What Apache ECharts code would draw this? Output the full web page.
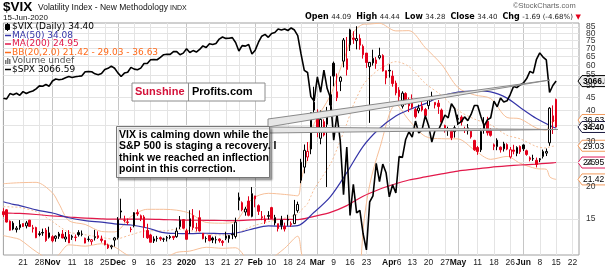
<!DOCTYPE html>
<html>
<head>
<meta charset="utf-8">
<script src="https://cdn.jsdelivr.net/npm/echarts/dist/echarts.min.js"></script>
<style>
html,body{margin:0;padding:0;background:#fff;overflow:hidden;}
#chart{width:605px;height:267px;}
</style>
</head>
<body>
<div id="chart"></div>
<script>
// ---------------- DATA ----------------
const tradingDays = {
  '2019-10': [11,14,15,16,17,18,21,22,23,24,25,28,29,30,31],
  '2019-11': [1,4,5,6,7,8,11,12,13,14,15,18,19,20,21,22,25,26,27,29],
  '2019-12': [2,3,4,5,6,9,10,11,12,13,16,17,18,19,20,23,24,26,27,30,31],
  '2020-01': [2,3,6,7,8,9,10,13,14,15,16,17,21,22,23,24,27,28,29,30,31],
  '2020-02': [3,4,5,6,7,10,11,12,13,14,18,19,20,21,24,25,26,27,28],
  '2020-03': [2,3,4,5,6,9,10,11,12,13,16,17,18,19,20,23,24,25,26,27,30,31],
  '2020-04': [1,2,3,6,7,8,9,13,14,15,16,17,20,21,22,23,24,27,28,29,30],
  '2020-05': [1,4,5,6,7,8,11,12,13,14,15,18,19,20,21,22,26,27,28,29],
  '2020-06': [1,2,3,4,5,8,9,10,11,12,15,16,17,18,19,22,23,24]
};
const vixPrevClose = 17.57;
const vixOpen = [
 16.01,16.27,14.69,14.43,13.61,13.86,14.37,14.07,14.82,13.83,13.87,13.02,13.26,13.55,12.70,
 12.77,12.58,12.81,13.07,12.50,13.04,12.80,12.72,13.25,13.06,12.59,12.48,12.21,12.64,12.88,12.51,12.33,11.85,11.64,12.38,
 12.66,16.11,14.81,14.59,13.67,14.10,15.87,15.42,15.26,13.50,12.97,12.51,12.55,12.66,12.47,12.67,12.77,12.81,12.77,13.97,14.90,
 13.46,15.01,15.45,13.84,15.16,13.16,12.55,12.91,12.61,12.43,12.50,12.24,12.58,12.55,13.04,12.79,17.72,17.36,15.95,17.62,15.34,
 18.45,16.90,15.29,14.67,15.34,16.60,14.45,14.36,14.84,14.03,14.93,14.23,14.37,16.15,21.24,23.93,26.22,28.18,43.03,
 38.95,31.05,36.10,35.24,46.05,61.18,44.80,51.96,62.35,63.69,72.21,76.85,75.04,76.45,71.28,67.05,59.31,61.33,63.03,64.26,65.55,57.20,
 57.38,54.46,51.11,48.00,41.49,46.52,42.87,44.40,40.26,39.81,41.49,40.28,41.72,44.87,42.95,42.66,40.06,34.84,33.44,33.08,32.99,
 36.84,37.61,33.79,33.28,33.09,30.47,28.58,27.97,33.73,36.22,33.30,28.81,28.80,28.66,28.23,29.33,26.25,27.92,27.11,28.84,
 29.25,27.75,26.04,25.86,25.47,25.58,26.36,27.16,29.81,38.03,44.09
];
const vixHigh = [
 16.52,16.34,14.79,14.68,14.05,14.83,14.39,14.72,14.86,14.20,13.97,13.42,13.73,13.81,13.97,
 12.94,12.92,13.33,13.56,13.32,13.55,12.99,13.02,13.54,13.50,12.66,12.82,12.50,13.58,13.40,12.89,12.33,11.99,11.87,12.74,
 15.24,17.99,15.43,15.05,13.95,15.94,16.33,15.59,15.51,14.35,13.10,12.80,12.86,12.79,12.65,12.85,12.97,12.81,13.86,15.39,14.98,
 13.72,16.20,16.39,14.46,16.19,13.16,12.80,12.91,12.77,12.81,12.57,12.39,13.35,12.79,14.28,15.16,19.02,17.56,16.72,18.39,19.99,
 18.47,17.09,16.10,15.49,16.08,16.72,15.55,14.36,15.41,14.49,15.56,14.65,17.80,17.52,25.80,29.36,30.03,39.16,49.48,
 40.33,39.93,36.86,41.24,54.39,62.12,55.78,54.37,76.83,77.57,83.56,81.69,85.47,79.45,72.48,67.05,61.28,69.13,64.67,70.37,66.37,57.20,
 60.59,57.24,52.29,49.29,47.50,47.07,44.91,46.17,40.92,42.09,43.04,40.85,44.61,47.29,42.95,43.88,40.62,35.12,34.49,33.55,34.83,
 38.47,38.20,34.49,35.35,33.23,30.62,28.98,33.94,37.59,37.71,34.00,29.63,31.05,28.84,30.09,29.69,28.71,29.29,28.89,29.12,
 29.40,28.02,26.37,26.77,26.09,25.99,28.04,28.31,41.16,41.81,44.44
];
const vixLow = [
 15.26,14.51,13.49,13.53,13.26,13.60,13.93,13.76,13.98,13.25,12.60,12.81,12.87,12.19,12.55,
 12.13,12.20,12.52,12.58,12.18,12.05,12.40,12.25,12.78,12.81,12.02,12.21,11.86,12.33,12.51,12.10,11.81,11.42,11.40,11.68,
 12.45,15.04,14.53,14.20,13.29,13.89,15.40,14.70,12.63,12.51,12.14,12.06,12.20,12.29,12.18,12.23,12.48,12.39,12.64,13.67,13.69,
 12.42,13.13,13.54,13.39,13.38,12.47,12.11,12.24,12.05,12.00,12.10,11.75,12.37,12.09,12.48,12.57,16.21,16.06,15.43,15.34,15.21,
 16.65,15.53,14.82,14.32,14.92,14.99,14.14,13.38,13.63,13.38,14.09,13.95,14.31,15.85,20.70,22.62,25.31,26.89,37.10,
 31.37,29.42,31.57,20.00,38.93,49.68,43.46,47.57,58.96,54.75,68.33,72.88,69.37,69.14,63.79,58.62,35.70,59.90,58.17,63.32,56.76,50.59,
 53.72,49.51,45.78,43.19,40.63,42.02,39.35,40.42,37.18,38.93,39.55,37.73,40.35,43.69,40.66,38.71,35.57,32.69,31.76,30.54,31.25,
 34.98,34.86,32.57,32.13,30.97,27.73,26.75,27.42,32.37,31.84,31.53,27.91,27.88,27.29,27.55,27.88,25.85,26.87,26.41,26.96,
 27.68,26.53,25.21,25.32,23.87,25.04,25.88,26.45,29.01,32.29,34.28
];
const vixClose = [
 15.58,14.57,13.54,13.68,13.79,14.25,14.00,14.46,14.01,13.71,12.65,13.11,13.20,12.33,13.22,
 12.30,12.83,13.10,12.62,12.73,12.07,12.69,12.68,13.00,13.05,12.05,12.46,12.41,12.78,12.66,12.34,11.87,11.54,11.75,12.62,
 14.91,15.96,14.80,14.52,13.62,15.86,15.68,14.99,13.94,12.63,12.14,12.29,12.58,12.50,12.51,12.61,12.67,12.65,13.43,14.82,13.78,
 12.47,14.02,13.85,13.79,13.45,12.54,12.56,12.32,12.39,12.42,12.32,12.10,12.85,12.91,12.98,14.56,18.23,16.28,16.39,15.49,18.84,
 17.97,16.05,15.15,14.96,15.47,15.04,15.18,13.74,14.15,13.68,14.83,14.38,15.56,17.08,25.03,27.85,27.56,39.16,40.11,
 33.42,36.82,31.99,39.62,41.94,54.46,47.30,53.90,75.47,57.83,82.69,75.91,76.45,72.00,66.04,61.59,61.67,63.95,61.00,65.54,57.08,53.54,
 57.06,50.91,46.80,45.24,46.70,43.35,41.67,41.17,37.76,40.84,40.11,38.15,43.83,45.41,41.98,41.38,35.93,33.29,33.57,31.23,34.15,
 37.19,35.97,33.61,34.12,31.44,27.98,27.57,33.04,35.28,32.61,31.89,29.30,30.53,27.99,29.53,28.16,28.01,27.62,28.59,27.51,
 28.23,26.84,25.66,25.81,24.52,25.81,27.57,27.57,40.79,36.09,34.40
];
const spxClose = [
 2970.27,2966.15,2995.68,2989.69,2997.95,2986.20,3006.72,2995.99,3004.52,3010.29,3022.55,3039.42,3036.89,3046.77,3037.56,
 3066.91,3078.27,3074.62,3076.78,3085.18,3093.08,3087.01,3091.84,3094.04,3096.63,3120.46,3122.03,3120.18,3108.46,3103.54,3110.29,3133.64,3140.52,3153.63,3140.98,
 3113.87,3093.20,3112.76,3117.43,3145.91,3135.96,3132.52,3141.63,3168.57,3168.80,3191.45,3192.52,3191.14,3205.37,3221.22,3224.01,3223.38,3239.91,3240.02,3221.29,3230.78,
 3257.85,3234.85,3246.28,3237.18,3253.05,3274.70,3265.35,3288.13,3283.15,3289.29,3316.81,3329.62,3320.79,3321.75,3325.54,3295.47,3243.63,3276.24,3273.40,3283.66,3225.52,
 3248.92,3297.59,3334.69,3345.78,3327.71,3352.09,3357.75,3379.45,3373.94,3380.16,3370.29,3386.15,3373.23,3337.75,3225.89,3128.21,3116.39,2978.76,2954.22,
 3090.23,3003.37,3130.12,3023.94,2972.37,2746.56,2882.23,2741.38,2480.64,2711.02,2386.13,2529.19,2398.10,2409.39,2304.92,2237.40,2447.33,2475.56,2630.07,2541.47,2626.65,2584.59,
 2470.50,2526.90,2488.65,2663.68,2659.41,2749.98,2789.82,2761.63,2846.06,2783.36,2799.55,2874.56,2823.16,2736.56,2799.31,2797.80,2836.74,2878.48,2863.39,2939.51,2912.43,
 2830.71,2842.74,2868.44,2848.42,2881.19,2929.80,2930.32,2870.12,2820.00,2852.50,2863.70,2953.91,2922.94,2971.61,2948.51,2955.45,2991.77,3036.13,3029.73,3044.31,
 3055.73,3080.82,3122.87,3112.35,3193.93,3232.39,3207.18,3190.14,3002.10,3041.31,3066.59
];
// Bollinger Bands (20,2) read at selected dates
const bbDates = ['2019-10-11','2019-10-16','2019-10-18','2019-10-25','2019-11-01','2019-11-05','2019-11-08','2019-11-15','2019-11-22','2019-11-29','2019-12-06','2019-12-13','2019-12-20','2019-12-27','2020-01-03','2020-01-10','2020-01-17','2020-01-24','2020-01-31','2020-02-07','2020-02-14','2020-02-21','2020-02-24','2020-02-25','2020-02-26','2020-02-27','2020-02-28','2020-03-06','2020-03-10','2020-03-13','2020-03-17','2020-03-20','2020-03-24','2020-03-27','2020-04-03','2020-04-09','2020-04-17','2020-04-24','2020-05-01','2020-05-08','2020-05-15','2020-05-22','2020-05-29','2020-06-05','2020-06-10','2020-06-11','2020-06-12','2020-06-15'];
const bbUpper = [20.61,20.73,20.79,20.86,18.97,17.18,14.76,14.26,13.38,13.33,15.30,16.35,16.35,16.22,15.77,14.52,14.42,14.67,17.94,18.89,18.70,18.48,21.10,23.71,25.72,31.13,35.41,45.73,53.49,68.15,80.63,86.92,87.20,87.76,81.94,82.12,70.43,60.50,49.10,45.97,44.46,37.47,37.02,34.05,33.42,35.50,36.22,36.63];
const bbMiddle = [16.75,16.69,16.62,16.01,14.64,14.03,13.31,12.99,12.68,12.48,12.99,13.47,13.45,13.65,13.49,13.06,12.96,13.11,14.01,14.61,15.10,15.65,16.18,16.66,17.22,18.36,19.59,24.63,28.19,35.40,41.90,50.28,53.80,57.98,62.06,59.35,51.01,45.72,39.99,36.96,35.07,31.92,30.90,28.83,28.45,28.73,28.90,29.03];
const bbLower = [12.89,12.65,12.45,11.16,10.31,10.88,11.86,11.72,11.98,11.63,10.68,10.59,10.55,11.08,11.21,11.60,11.50,11.55,10.08,10.33,11.50,12.82,11.26,9.61,8.72,5.59,3.77,3.53,2.89,2.65,3.17,13.64,20.40,28.20,42.18,36.58,31.59,30.94,30.88,27.95,25.68,26.37,24.78,23.61,23.48,21.96,21.58,21.42];
// Moving averages read at selected dates
const maDates = ['2019-10-11','2019-10-16','2019-10-18','2019-10-25','2019-11-01','2019-11-08','2019-11-15','2019-11-22','2019-11-29','2019-12-06','2019-12-13','2019-12-20','2019-12-27','2020-01-03','2020-01-10','2020-01-17','2020-01-24','2020-01-31','2020-02-07','2020-02-14','2020-02-21','2020-02-28','2020-03-06','2020-03-13','2020-03-20','2020-03-27','2020-04-03','2020-04-09','2020-04-17','2020-04-24','2020-05-01','2020-05-08','2020-05-15','2020-05-22','2020-05-29','2020-06-05','2020-06-12','2020-06-15'];
const ma50 = [17.51,17.10,16.91,16.27,15.81,15.15,14.76,14.55,14.34,14.19,13.81,13.24,13.14,13.12,13.17,13.13,13.19,13.68,14.07,14.03,14.10,15.91,18.34,22.77,28.88,33.91,37.95,40.18,42.47,45.44,47.10,47.60,47.20,44.64,41.02,37.14,34.41,34.08];
const ma200 = [15.82,15.78,15.75,15.60,15.40,15.25,15.10,15.00,14.95,14.95,14.95,14.90,14.85,14.82,14.80,14.78,14.76,14.85,14.95,14.93,14.90,15.35,15.90,16.90,18.40,19.60,20.60,21.30,21.90,22.50,23.10,23.50,23.90,24.20,24.40,24.60,24.85,24.95];
// axis ticks
const yTickValues = [15,20,25,30,35,40,45,50,55,60,65,70,75,80,85];
const xTickDates = ['2019-10-21','2019-10-28','2019-11-01','2019-11-11','2019-11-18','2019-11-25','2019-12-02','2019-12-09','2019-12-16','2019-12-23','2020-01-02','2020-01-13','2020-01-21','2020-01-27','2020-02-03','2020-02-10','2020-02-18','2020-02-24','2020-03-02','2020-03-09','2020-03-16','2020-03-23','2020-04-01','2020-04-06','2020-04-13','2020-04-20','2020-04-27','2020-05-01','2020-05-11','2020-05-18','2020-05-26','2020-06-01','2020-06-08','2020-06-15','2020-06-22'];
const xTickText = ['21','28','Nov','11','18','25','Dec','9','16','23','2020','13','21','27','Feb','10','18','24','Mar','9','16','23','Apr','6','13','20','27','May','11','18','26','Jun','8','15','22'];
const monthTickText = ['Nov','Dec','2020','Feb','Mar','Apr','May','Jun'];

// ---------------- BUILD ----------------
const FONT = '"Liberation Sans", Arial, sans-serif';
const WIDE = '"DejaVu Sans", Verdana, sans-serif';
const RED = '#e3001b';
const cats = [];
Object.keys(tradingDays).forEach(m => tradingDays[m].forEach(d => cats.push(m + '-' + (d < 10 ? '0' : '') + d)));
const tickMap = {};
xTickDates.forEach((d, i) => { tickMap[d] = xTickText[i]; });
const monthSet = new Set(monthTickText);

const candleData = vixClose.map((c, i) => {
  const o = vixOpen[i];
  const prev = i === 0 ? vixPrevClose : vixClose[i - 1];
  const col = c < prev ? RED : '#000';
  const fill = c < o ? col : '#fff';
  return { value: [o, c, vixLow[i], vixHigh[i]], itemStyle: { color: fill, color0: fill, borderColor: col, borderColor0: col, borderWidth: 1 } };
});
const pairs = (dates, vals) => dates.map((d, i) => [d, vals[i]]);

const VMIN = 10.82, VMAX = 88.0;
const SMIN = 2216.4, SMAX = 3417.8;

const chart = echarts.init(document.getElementById('chart'), null, { renderer: 'canvas' });
const option = {
  animation: false,
  backgroundColor: '#fff',
  textStyle: { fontFamily: FONT },
  grid: { left: 3.4, right: 26, top: 23, bottom: 12, show: true, borderColor: '#a0a0a0', borderWidth: 1, backgroundColor: 'transparent' },
  xAxis: [
    {
      type: 'category', data: cats, boundaryGap: false,
      axisLine: { show: false }, axisTick: { show: false },
      axisLabel: {
        interval: (i, v) => v in tickMap,
        formatter: v => monthSet.has(tickMap[v]) ? '{b|' + tickMap[v] + '}' : (tickMap[v] || ''),
        fontSize: 8.5, color: '#222', margin: 3, fontFamily: FONT,
        rich: { b: { fontWeight: 'bold', fontSize: 8.5, fontFamily: FONT, color: '#111' } }
      },
      splitLine: { show: true, interval: (i, v) => v in tickMap, lineStyle: { color: '#e4e4e4', width: 1 } }
    },
    {
      type: 'category', data: cats, boundaryGap: false, position: 'bottom',
      axisLine: { show: false }, axisTick: { show: false }, axisLabel: { show: false },
      splitLine: { show: true, interval: (i, v) => v in tickMap && monthSet.has(tickMap[v]), lineStyle: { color: '#c6c6c6', width: 1 } }
    }
  ],
  yAxis: [
    { type: 'log', min: VMIN, max: VMAX, axisLabel: { show: false }, axisLine: { show: false }, axisTick: { show: false }, splitLine: { show: false } },
    { type: 'log', min: SMIN, max: SMAX, show: false }
  ],
  series: [
    {
      type: 'line', name: 'grid', data: [], z: 1, silent: true,
      markLine: {
        silent: true, symbol: ['none', 'none'], animation: false, z: 1,
        lineStyle: { color: '#e4e4e4', width: 1, type: 'solid' },
        label: { show: true, position: 'end', distance: 7, formatter: p => String(p.value), color: '#333', fontSize: 8.5, fontFamily: FONT },
        emphasis: { disabled: true },
        data: yTickValues.map(v => ({ yAxis: v }))
      }
    },
    { type: 'line', name: 'BB upper', data: pairs(bbDates, bbUpper), showSymbol: false, smooth: 0.3, z: 2, lineStyle: { color: '#f6bf98', width: 1 } },
    { type: 'line', name: 'BB lower', data: pairs(bbDates, bbLower), showSymbol: false, smooth: 0.3, z: 2, lineStyle: { color: '#f6bf98', width: 1 } },
    { type: 'line', name: 'BB middle', data: pairs(bbDates, bbMiddle), showSymbol: false, smooth: 0.3, z: 2, lineStyle: { color: '#f6bf98', width: 1, type: [2, 2] } },
    { type: 'line', name: 'MA200', data: pairs(maDates, ma200), showSymbol: false, smooth: 0.3, z: 3, lineStyle: { color: '#e2184a', width: 1.2 } },
    { type: 'line', name: 'MA50', data: pairs(maDates, ma50), showSymbol: false, smooth: 0.3, z: 3, lineStyle: { color: '#3535a8', width: 1.2 } },
    { type: 'candlestick', name: 'VIX', data: candleData, barWidth: 2, z: 4 },
    { type: 'line', name: 'SPX', data: spxClose, yAxisIndex: 1, showSymbol: false, z: 5, lineStyle: { color: '#000', width: 1.6 } }
  ]
};
chart.setOption(option);

// ---------------- ANNOTATIONS ----------------
const last = vixClose.length - 1;
const fmt = v => v.toFixed(2);
const chg = vixClose[last] - vixClose[last - 1];
const chgPct = chg / vixClose[last - 1] * 100;

const legendRows = [
  { text: '$VIX (Daily) ' + fmt(vixClose[last]), color: '#000', icon: 'candle' },
  { text: 'MA(50) ' + fmt(ma50[ma50.length - 1]), color: '#3535a8', icon: 'line' },
  { text: 'MA(200) ' + fmt(ma200[ma200.length - 1]), color: '#e2184a', icon: 'line' },
  { text: 'BB(20,2.0) ' + fmt(bbLower[bbLower.length - 1]) + ' - ' + fmt(bbMiddle[bbMiddle.length - 1]) + ' - ' + fmt(bbUpper[bbUpper.length - 1]), color: '#ff6a1a', icon: 'line' },
  { text: 'Volume undef', color: '#555', icon: 'vol' },
  { text: '$SPX ' + fmt(spxClose[spxClose.length - 1]), color: '#000', icon: 'line' }
];
const LX = 5;
const g = [];
g.push({ type: 'text', x: 3, y: 0.5, z: 100, style: { text: '$VIX', font: 'bold 13.5px ' + FONT, fill: '#000' } });
g.push({ type: 'text', x: 38, y: 3.5, z: 100, style: { text: 'Volatility Index - New Methodology', font: '8.5px ' + FONT, fill: '#111' } });
g.push({ type: 'text', x: 170, y: 5, z: 100, style: { text: 'INDX', font: '7px ' + FONT, fill: '#111' } });
g.push({ type: 'text', x: 3, y: 13.5, z: 100, style: { text: '15-Jun-2020', font: '8px ' + FONT, fill: '#111' } });
g.push({ type: 'text', x: 513, y: 2, z: 100, style: { text: '\u00a9StockCharts.com', font: '7.5px ' + FONT, fill: '#666' } });
g.push({ type: 'text', x: 305, y: 13, z: 100, style: {
  text: '{b|Open} {v|' + fmt(vixOpen[last]) + '}  {b|High} {v|' + fmt(vixHigh[last]) + '}  {b|Low} {v|' + fmt(vixLow[last]) + '}  {b|Close} {v|' + fmt(vixClose[last]) + '}  {b|Chg} {v|' + fmt(chg) + ' (' + chgPct.toFixed(2) + '%)} {r|\u25bc}',
  font: '8px ' + WIDE, fill: '#000',
  rich: { b: { font: 'bold 8px ' + WIDE, fill: '#000' }, v: { font: '7px ' + WIDE, fill: '#222' }, r: { font: '7px ' + WIDE, fill: RED } }
} });
legendRows.forEach((r, i) => {
  const y = 27 + i * 8.5;
  if (r.icon === 'line') g.push({ type: 'line', z: 100, shape: { x1: LX, y1: y, x2: LX + 6, y2: y }, style: { stroke: r.color, lineWidth: 1.5 } });
  if (r.icon === 'candle') {
    g.push({ type: 'line', z: 100, shape: { x1: LX + 2.5, y1: y - 4, x2: LX + 2.5, y2: y + 4 }, style: { stroke: '#000', lineWidth: 1 } });
    g.push({ type: 'rect', z: 100, shape: { x: LX + 0.5, y: y - 2.5, width: 4, height: 5 }, style: { fill: '#000', stroke: '#000' } });
  }
  if (r.icon === 'vol') {
    g.push({ type: 'rect', z: 100, shape: { x: LX, y: y - 1, width: 1.5, height: 4 }, style: { fill: '#777' } });
    g.push({ type: 'rect', z: 100, shape: { x: LX + 2, y: y - 3, width: 1.5, height: 6 }, style: { fill: '#777' } });
    g.push({ type: 'rect', z: 100, shape: { x: LX + 4, y: y - 2, width: 1.5, height: 5 }, style: { fill: '#777' } });
  }
  g.push({ type: 'text', x: LX + 7, y: y, z: 100, style: { text: r.text, font: '9px ' + WIDE, fill: r.color, verticalAlign: 'middle' } });
});
// Sunshine Profits box
g.push({ type: 'rect', z: 100, shape: { x: 132, y: 83, width: 133, height: 18 }, style: { fill: '#fff', stroke: '#8c8c8c', lineWidth: 1 } });
g.push({ type: 'line', z: 101, shape: { x1: 188.5, y1: 83, x2: 188.5, y2: 101 }, style: { stroke: '#8c8c8c', lineWidth: 1 } });
g.push({ type: 'text', x: 135, y: 92, z: 101, style: { text: 'Sunshine', font: 'bold 11px ' + FONT, fill: '#d4123a', verticalAlign: 'middle' } });
g.push({ type: 'text', x: 192, y: 92, z: 101, style: { text: 'Profits.com', font: 'bold 11px ' + FONT, fill: '#000', verticalAlign: 'middle' } });
// callouts
g.push({ type: 'polygon', z: 90, shape: { points: [[268, 119], [550, 80], [268, 127]] }, style: { fill: '#e6e6e6', stroke: '#8a8a8a', lineWidth: 1 } });
g.push({ type: 'polygon', z: 90, shape: { points: [[268, 127], [558, 129.5], [268, 133]] }, style: { fill: '#e6e6e6', stroke: '#8a8a8a', lineWidth: 1 } });
// annotation box
g.push({ type: 'rect', z: 100, shape: { x: 116.5, y: 126.5, width: 153, height: 51 }, style: { fill: '#fff', stroke: '#777', lineWidth: 1, shadowBlur: 2, shadowOffsetX: 2, shadowOffsetY: 2, shadowColor: 'rgba(0,0,0,0.35)' } });
g.push({ type: 'text', x: 119, y: 129, z: 101, style: { text: 'VIX is calming down while the\nS&P 500 is staging a recovery. I\nthink we reached an inflection\npoint in this correction.', font: 'bold 10.5px ' + FONT, fill: '#000', lineHeight: 11.5 } });

// value tags on the right
function tag(y, txt, stroke, fill, bold) {
  return { type: 'group', x: 578, y: y, z: 110, children: [
    { type: 'polygon', shape: { points: [[0, 0], [4, -5.5], [30, -5.5], [30, 5.5], [4, 5.5]] }, style: { fill: fill, stroke: stroke, lineWidth: 1 } },
    { type: 'text', x: 5, y: 0.5, style: { text: txt, font: (bold ? 'bold ' : '') + '8.5px ' + FONT, fill: '#000', verticalAlign: 'middle' } }
  ] };
}
const yv = v => chart.convertToPixel({ yAxisIndex: 0 }, v);
const ys = v => chart.convertToPixel({ yAxisIndex: 1 }, v);
const spxLast = spxClose[spxClose.length - 1];
g.push(tag(ys(spxLast), String(spxLast).slice(0, 6), '#000', '#eeeeee', true));
g.push(tag(yv(bbUpper[bbUpper.length - 1]), fmt(bbUpper[bbUpper.length - 1]), '#f29a5c', '#fff', false));
g.push(tag(yv(bbMiddle[bbMiddle.length - 1]), fmt(bbMiddle[bbMiddle.length - 1]), '#f29a5c', '#fff', false));
g.push(tag(yv(bbLower[bbLower.length - 1]), fmt(bbLower[bbLower.length - 1]), '#f29a5c', '#fff', false));
g.push(tag(yv(ma200[ma200.length - 1]), fmt(ma200[ma200.length - 1]), '#e2185a', '#fff', false));
g.push(tag(yv(vixClose[last]), fmt(vixClose[last]), '#1a1a40', '#fff', true));
chart.setOption({ graphic: g });
</script>
</body>
</html>
